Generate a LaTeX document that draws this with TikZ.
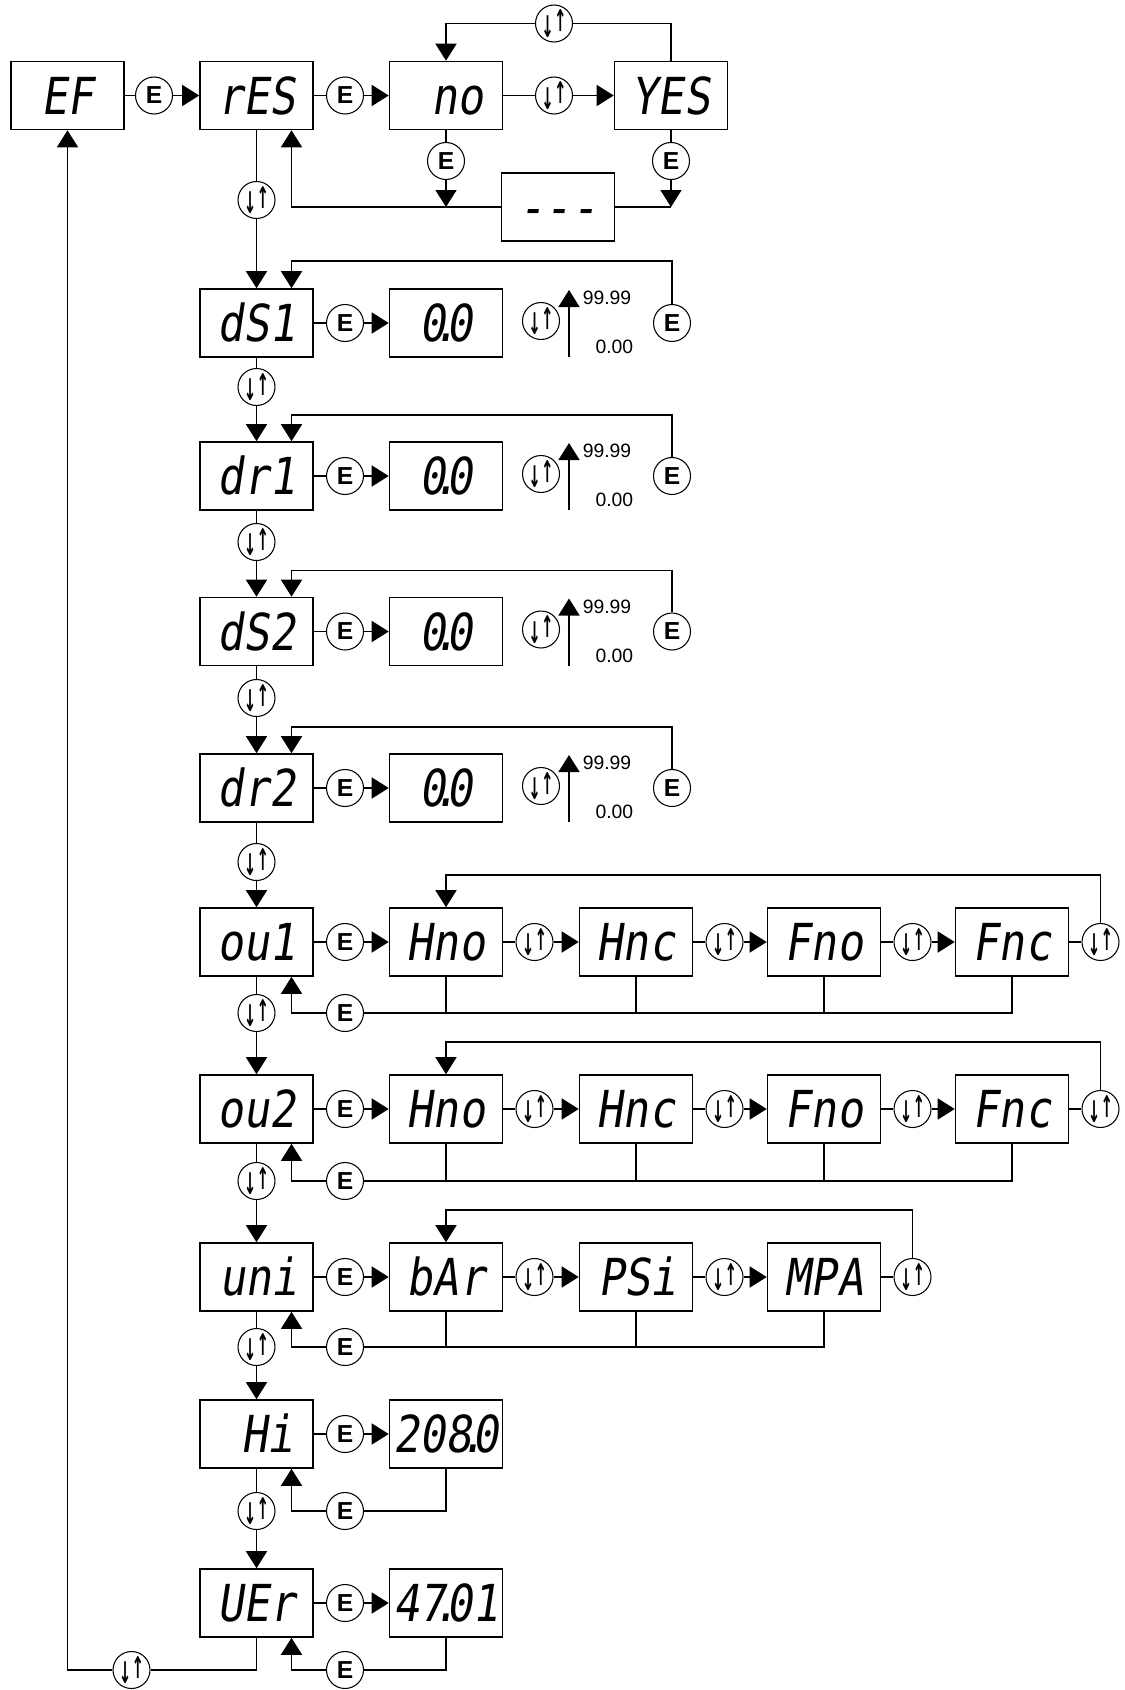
\documentclass[tikz,border=0pt]{standalone}
\usepackage{fontspec}
\setmainfont{Liberation Sans}
\newfontfamily\segfont[FakeSlant=0.15,FakeStretch=0.85]{DejaVu Sans Mono}
\newfontfamily\arrowfont[FakeStretch=0.5]{DejaVu Sans}
\usetikzlibrary{arrows.meta}
\newcommand{\updn}{{\arrowfont\bfseries\raisebox{-1.5pt}{↓}\raisebox{1.5pt}{↑}}}
\newcommand{\pt}{\kern-.25em.\kern-.25em}
\begin{document}
\begin{tikzpicture}[disp/.style={rectangle,draw,minimum width=2.26cm,minimum height=1.36cm,inner sep=2pt,text height=0.74cm,text depth=0pt,font=\segfont\fontsize{29}{32}\selectfont},
    dispr/.style={disp,text width=1.5cm,align=right},
    ekey/.style={circle,draw,line width=0.6pt,minimum size=0.74cm,inner sep=0pt,font=\bfseries\fontsize{14}{14}\selectfont},
    skey/.style={circle,draw,line width=0.6pt,minimum size=0.74cm,inner sep=0pt,font=\fontsize{17}{17}\selectfont},
    lim/.style={inner sep=0pt,font=\fontsize{11}{12}\selectfont},
    line width=0.9pt,>={Triangle[length=0.34cm,width=0.42cm]}]
    \useasboundingbox (0,0) rectangle (22.5,-33.8);

    %menu nodes
    \node (EF) at (1.35,-1.91)[disp]{EF};
    \node (RES) at (5.13,-1.91)[disp]{rES};
    \node (NO) at (8.92,-1.91)[dispr]{no};
    \node (YES) at (13.42,-1.91)[disp]{YES};
    \node (DASH) at (11.16,-4.14)[disp]{-{}-{}-};
    \node (DS1) at (5.13,-6.46)[disp]{dS1};
    \node (DR1) at (5.13,-9.52)[disp]{dr1};
    \node (DS2) at (5.13,-12.63)[disp]{dS2};
    \node (DR2) at (5.13,-15.76)[disp]{dr2};
    \node (OU1) at (5.13,-18.84)[disp]{ou1};
    \node (OU2) at (5.13,-22.18)[disp]{ou2};
    \node (UNI) at (5.13,-25.54)[dispr]{uni};
    \node (HI) at (5.13,-28.68)[dispr]{Hi};
    \node (VER) at (5.13,-32.06)[disp]{UEr};

    %value nodes
    \node (VS1) at (8.92,-6.46)[disp]{0\pt0};
    \node (VR1) at (8.92,-9.52)[disp]{0\pt0};
    \node (VS2) at (8.92,-12.63)[disp]{0\pt0};
    \node (VR2) at (8.92,-15.76)[disp]{0\pt0};
    \node (HNO1) at (8.92,-18.84)[disp]{Hno};
    \node (HNC1) at (12.72,-18.84)[disp]{Hnc};
    \node (FNO1) at (16.48,-18.84)[disp]{Fno};
    \node (FNC1) at (20.24,-18.84)[disp]{Fnc};
    \node (HNO2) at (8.92,-22.18)[disp]{Hno};
    \node (HNC2) at (12.72,-22.18)[disp]{Hnc};
    \node (FNO2) at (16.48,-22.18)[disp]{Fno};
    \node (FNC2) at (20.24,-22.18)[disp]{Fnc};
    \node (BAR) at (8.92,-25.54)[disp]{bAr};
    \node (PSI) at (12.72,-25.54)[dispr]{PSi};
    \node (MPA) at (16.48,-25.54)[disp]{MPA};
    \node (HIV) at (8.92,-28.68)[disp]{208\pt0};
    \node (VERV) at (8.92,-32.06)[disp]{47\pt01};

    %enter keys
    \node (E1) at (3.08,-1.91)[ekey]{E};
    \node (E2) at (6.90,-1.91)[ekey]{E};
    \node (E3) at (8.92,-3.22)[ekey]{E};
    \node (E4) at (13.42,-3.22)[ekey]{E};
    \node (E5) at (6.90,-6.46)[ekey]{E};
    \node (E6) at (13.44,-6.46)[ekey]{E};
    \node (E7) at (6.90,-9.52)[ekey]{E};
    \node (E8) at (13.44,-9.52)[ekey]{E};
    \node (E9) at (6.90,-12.63)[ekey]{E};
    \node (E10) at (13.44,-12.63)[ekey]{E};
    \node (E11) at (6.90,-15.76)[ekey]{E};
    \node (E12) at (13.44,-15.76)[ekey]{E};
    \node (E13) at (6.90,-18.84)[ekey]{E};
    \node (E14) at (6.90,-20.26)[ekey]{E};
    \node (E15) at (6.90,-22.18)[ekey]{E};
    \node (E16) at (6.90,-23.62)[ekey]{E};
    \node (E17) at (6.90,-25.54)[ekey]{E};
    \node (E18) at (6.90,-26.94)[ekey]{E};
    \node (E19) at (6.90,-28.68)[ekey]{E};
    \node (E20) at (6.90,-30.22)[ekey]{E};
    \node (E21) at (6.90,-32.06)[ekey]{E};
    \node (E22) at (6.90,-33.40)[ekey]{E};

    %scroll keys
    \node (S1) at (11.08,-1.91)[skey]{\updn};
    \node (S2) at (11.08,-0.47)[skey]{\updn};
    \node (S3) at (5.13,-4.00)[skey]{\updn};
    \node (S4) at (10.82,-6.42)[skey]{\updn};
    \node (S5) at (5.13,-7.74)[skey]{\updn};
    \node (S6) at (10.82,-9.48)[skey]{\updn};
    \node (S7) at (5.13,-10.84)[skey]{\updn};
    \node (S8) at (10.82,-12.59)[skey]{\updn};
    \node (S9) at (5.13,-13.96)[skey]{\updn};
    \node (S10) at (10.82,-15.72)[skey]{\updn};
    \node (S11) at (5.13,-17.24)[skey]{\updn};
    \node (S12) at (10.69,-18.84)[skey]{\updn};
    \node (S13) at (14.49,-18.84)[skey]{\updn};
    \node (S14) at (18.25,-18.84)[skey]{\updn};
    \node (S15) at (22.01,-18.84)[skey]{\updn};
    \node (S16) at (5.13,-20.26)[skey]{\updn};
    \node (S17) at (10.69,-22.18)[skey]{\updn};
    \node (S18) at (14.49,-22.18)[skey]{\updn};
    \node (S19) at (18.25,-22.18)[skey]{\updn};
    \node (S20) at (22.01,-22.18)[skey]{\updn};
    \node (S21) at (5.13,-23.62)[skey]{\updn};
    \node (S22) at (10.69,-25.54)[skey]{\updn};
    \node (S23) at (14.49,-25.54)[skey]{\updn};
    \node (S24) at (18.25,-25.54)[skey]{\updn};
    \node (S25) at (5.13,-26.94)[skey]{\updn};
    \node (S26) at (5.13,-30.22)[skey]{\updn};
    \node (S27) at (2.63,-33.40)[skey]{\updn};

    %range labels
    \node (MAX1) at (11.64,-5.96)[lim,anchor=west]{99.99};
    \node (MIN1) at (12.68,-6.94)[lim,anchor=east]{0.00};
    \node (MAX2) at (11.64,-9.02)[lim,anchor=west]{99.99};
    \node (MIN2) at (12.68,-10.00)[lim,anchor=east]{0.00};
    \node (MAX3) at (11.64,-12.13)[lim,anchor=west]{99.99};
    \node (MIN3) at (12.68,-13.11)[lim,anchor=east]{0.00};
    \node (MAX4) at (11.64,-15.26)[lim,anchor=west]{99.99};
    \node (MIN4) at (12.68,-16.24)[lim,anchor=east]{0.00};

    %corners and range arrows
    \coordinate (K1) at (5.83,-5.22);
    \coordinate (K2) at (5.83,-8.30);
    \coordinate (K3) at (5.83,-11.41);
    \coordinate (K4) at (5.83,-14.54);
    \coordinate (K5) at (8.92,-17.50);
    \coordinate (K6) at (8.92,-20.84);
    \coordinate (K7) at (8.92,-24.20);
    \coordinate (LO1) at (11.38,-7.14);
    \coordinate (UP1) at (11.38,-5.80);
    \coordinate (LO2) at (11.38,-10.20);
    \coordinate (UP2) at (11.38,-8.86);
    \coordinate (LO3) at (11.38,-13.31);
    \coordinate (UP3) at (11.38,-11.97);
    \coordinate (LO4) at (11.38,-16.44);
    \coordinate (UP4) at (11.38,-15.10);

    %top row
    \draw (EF) to (E1);
    \draw [->] (E1) to (RES);
    \draw (RES) to (E2);
    \draw [->] (E2) to (NO);
    \draw (NO) to (S1);
    \draw [->] (S1) to (YES);
    \draw (YES.north) |- (S2);
    \draw [->] (S2) -| (NO.north);
    \draw (NO) to (E3);
    \draw [->] (E3) to (E3|-DASH);
    \draw (YES) to (E4);
    \draw [->] (E4) to (E4|-DASH);
    \draw (E4|-DASH) to (DASH);
    \draw [->] (DASH) -| ([xshift=0.7cm]RES.south);
    \draw (RES) to (S3);
    \draw [->] (S3) to (DS1);

    %delay settings
    \draw (DS1) to (E5);
    \draw [->] (E5) to (VS1);
    \draw [->] (LO1) to (UP1);
    \draw [->] (E6) |- (K1) to (K1|-DS1.north);
    \draw (DS1) to (S5);
    \draw [->] (S5) to (DR1);
    \draw (DR1) to (E7);
    \draw [->] (E7) to (VR1);
    \draw [->] (LO2) to (UP2);
    \draw [->] (E8) |- (K2) to (K2|-DR1.north);
    \draw (DR1) to (S7);
    \draw [->] (S7) to (DS2);
    \draw (DS2) to (E9);
    \draw [->] (E9) to (VS2);
    \draw [->] (LO3) to (UP3);
    \draw [->] (E10) |- (K3) to (K3|-DS2.north);
    \draw (DS2) to (S9);
    \draw [->] (S9) to (DR2);
    \draw (DR2) to (E11);
    \draw [->] (E11) to (VR2);
    \draw [->] (LO4) to (UP4);
    \draw [->] (E12) |- (K4) to (K4|-DR2.north);
    \draw (DR2) to (S11);
    \draw [->] (S11) to (OU1);

    %output 1
    \draw (OU1) to (E13);
    \draw [->] (E13) to (HNO1);
    \draw (HNO1) to (S12);
    \draw [->] (S12) to (HNC1);
    \draw (HNC1) to (S13);
    \draw [->] (S13) to (FNO1);
    \draw (FNO1) to (S14);
    \draw [->] (S14) to (FNC1);
    \draw (FNC1) to (S15);
    \draw [->] (S15) |- (K5) to (HNO1);
    \draw (FNC1) |- (E14);
    \draw (HNO1) to (HNO1|-E14);
    \draw (HNC1) to (HNC1|-E14);
    \draw (FNO1) to (FNO1|-E14);
    \draw [->] (E14) -| ([xshift=0.7cm]OU1.south);
    \draw (OU1) to (S16);
    \draw [->] (S16) to (OU2);

    %output 2
    \draw (OU2) to (E15);
    \draw [->] (E15) to (HNO2);
    \draw (HNO2) to (S17);
    \draw [->] (S17) to (HNC2);
    \draw (HNC2) to (S18);
    \draw [->] (S18) to (FNO2);
    \draw (FNO2) to (S19);
    \draw [->] (S19) to (FNC2);
    \draw (FNC2) to (S20);
    \draw [->] (S20) |- (K6) to (HNO2);
    \draw (FNC2) |- (E16);
    \draw (HNO2) to (HNO2|-E16);
    \draw (HNC2) to (HNC2|-E16);
    \draw (FNO2) to (FNO2|-E16);
    \draw [->] (E16) -| ([xshift=0.7cm]OU2.south);
    \draw (OU2) to (S21);
    \draw [->] (S21) to (UNI);

    %units
    \draw (UNI) to (E17);
    \draw [->] (E17) to (BAR);
    \draw (BAR) to (S22);
    \draw [->] (S22) to (PSI);
    \draw (PSI) to (S23);
    \draw [->] (S23) to (MPA);
    \draw (MPA) to (S24);
    \draw [->] (S24) |- (K7) to (BAR);
    \draw (MPA) |- (E18);
    \draw (BAR) to (BAR|-E18);
    \draw (PSI) to (PSI|-E18);
    \draw [->] (E18) -| ([xshift=0.7cm]UNI.south);
    \draw (UNI) to (S25);
    \draw [->] (S25) to (HI);

    %peak and version
    \draw (HI) to (E19);
    \draw [->] (E19) to (HIV);
    \draw (HIV) |- (E20);
    \draw [->] (E20) -| ([xshift=0.7cm]HI.south);
    \draw (HI) to (S26);
    \draw [->] (S26) to (VER);
    \draw (VER) to (E21);
    \draw [->] (E21) to (VERV);
    \draw (VERV) |- (E22);
    \draw [->] (E22) -| ([xshift=0.7cm]VER.south);
    \draw (VER) |- (S27);
    \draw [->] (S27) -| (EF);
\end{tikzpicture}
\end{document}
